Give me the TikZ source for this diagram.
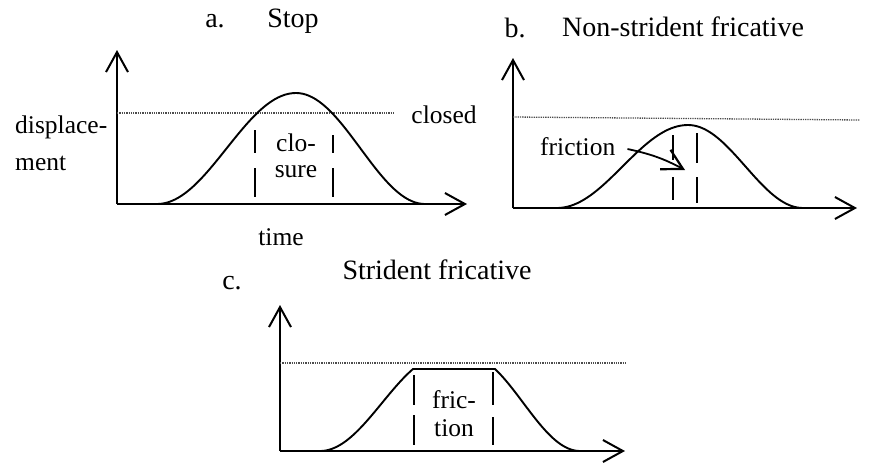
\documentclass[tikz,border=0pt]{standalone}
\usepackage{fontspec}
\setmainfont{Liberation Serif}
\usetikzlibrary{arrows.meta}
\begin{document}
\begin{tikzpicture}[x=1pt,y=-1pt,
  axis/.style={line width=2pt,-{Straight Barb[length=20pt,width=22pt,line width=2pt]}},
  curve/.style={line width=1.9pt},
  tick/.style={line width=1.9pt},
  refline/.style={line width=1.3pt,densely dotted,black!70},
  title/.style={font=\fontsize{28}{32}\selectfont},
  lab/.style={font=\fontsize{25.5}{28}\selectfont,inner sep=0pt},
  fricarrow/.style={line width=1.8pt,-{Straight Barb[length=20pt,width=22pt,line width=2.2pt]}}]
\useasboundingbox (0,0) rectangle (876,464);
% ---------------- panel a
\node[title] (ta) at (215,21) {a.};
\node[title] (tstop) at (293,21) {Stop};
\coordinate (ao) at (117,204);
\draw[axis] (ao) -- (117,50);
\draw[axis] (ao) -- (467,204);
\draw[refline] (117,113) -- (395,113);
\node[lab] (closed) at (444,115) {closed};
\node[lab,anchor=west] (disp) at (15,127) {displace-};
\node[lab,anchor=west] (ment) at (15,163) {ment};
\node[lab] (time) at (281,237) {time};
\draw[curve] plot[domain=0:1,samples=40,smooth] ({157+139*\x},{204-111*(1-cos(180*\x))/2})
  -- plot[domain=0:1,samples=40,smooth] ({296+129*\x},{204-111*(1+cos(180*\x))/2});
\draw[tick] (255,130) -- (255,153) (255,168) -- (255,197);
\draw[tick] (333,135) -- (333,153) (333,168) -- (333,197);
\node[lab] (clo) at (296,143) {clo-};
\node[lab] (sure) at (296,172) {sure};
% ---------------- panel b
\node[title] (tb) at (515,28) {b.};
\node[title] (tns) at (683,27) {Non-strident fricative};
\coordinate (bo) at (513,208);
\draw[axis] (bo) -- (513,58);
\draw[axis] (bo) -- (857,208);
\draw[refline] (513,117) -- (860,120);
\draw[curve] plot[domain=0:1,samples=40,smooth] ({557+131*\x},{208-83*(1-cos(180*\x))/2})
  -- plot[domain=0:1,samples=40,smooth] ({688+115*\x},{208-83*(1+cos(180*\x))/2});
\draw[tick] (673,135) -- (673,160) (673,177) -- (673,200);
\draw[tick] (697,133) -- (697,163) (697,177) -- (697,203);
\node[lab,anchor=west] (fric) at (540,147) {friction};
\coordinate (ftip) at (685,170);
\draw[fricarrow] (fric.east) ++(12,2) to[bend left=8] (ftip);
% ---------------- panel c
\node[title] (tc) at (232,283) {c.};
\node[title] (tsf) at (437,270) {Strident fricative};
\coordinate (co) at (280,451);
\draw[axis] (co) -- (280,305);
\draw[axis] (co) -- (625,451);
\draw[refline] (280,363) -- (627,363);
\draw[curve] plot[domain=0:1,samples=40,smooth] ({320+93*\x},{451-82*(1-cos(135*\x))/1.7071})
  -- (495,369)
  -- plot[domain=0:1,samples=40,smooth] ({495+85*\x},{451-82*(1-cos(135*(1-\x)))/1.7071});
\draw[tick] (414,375) -- (414,405) (414,415) -- (414,445);
\draw[tick] (493,372) -- (493,405) (493,417) -- (493,445);
\node[lab] (fricc) at (454,400) {fric-};
\node[lab] (tion) at (454,428) {tion};
\end{tikzpicture}
\end{document}
